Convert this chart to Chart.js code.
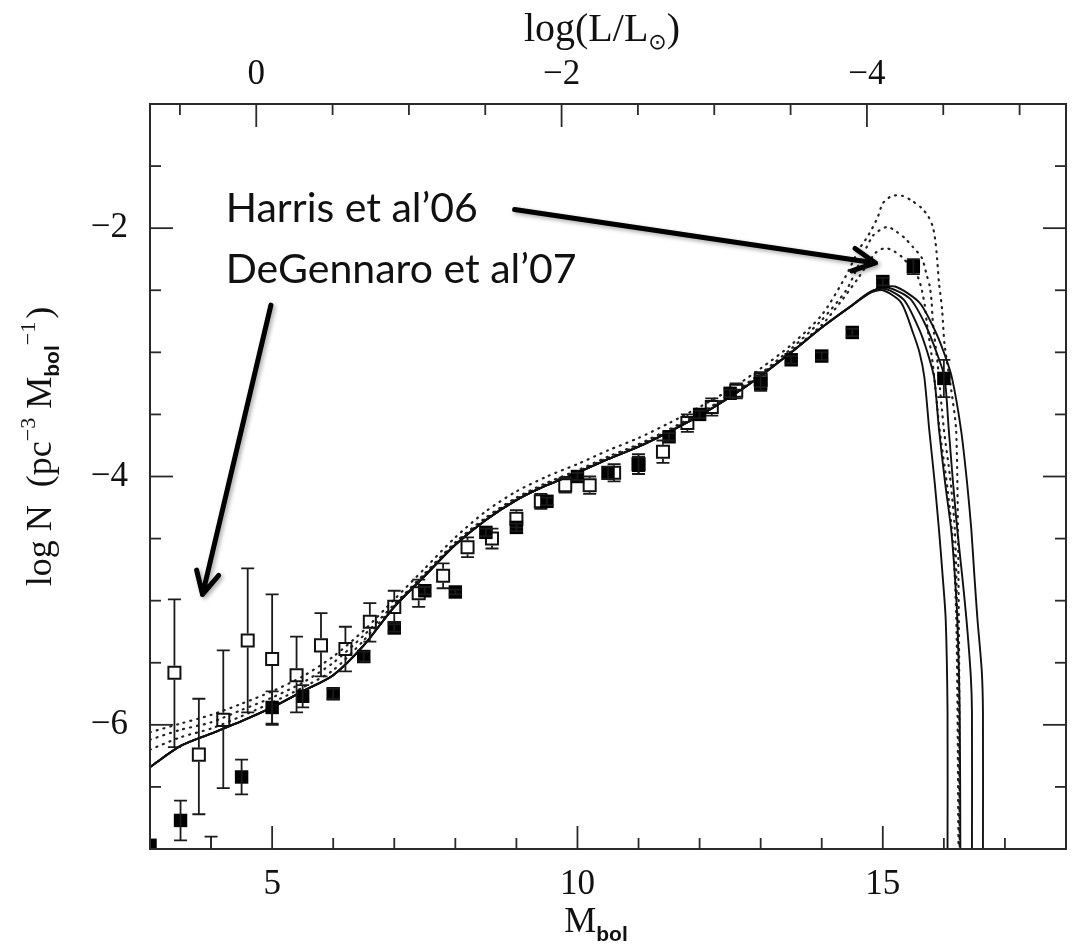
<!DOCTYPE html>
<html>
<head>
<meta charset="utf-8">
<script src="https://cdn.jsdelivr.net/npm/chart.js@4/dist/chart.umd.min.js"></script>
<style>
  html, body { margin: 0; padding: 0; background: #fff; }
  #wrap { width: 1081px; height: 951px; }
</style>
</head>
<body>
<div id="wrap"><canvas id="lf" width="1081" height="951"></canvas></div>
<script>
// White dwarf luminosity function: observed counts and cooling-model curves.
const M_SUN = 4.74;               // solar bolometric magnitude for the top axis

// Axis ranges and top-axis (log L/Lsun) tick values
const mbolRange = [3, 18];
const logNRange = [-7, -1];
const lumTicks = [0.5, 0, -0.5, -1, -1.5, -2, -2.5, -3, -3.5, -4, -4.5, -5];
const lumLabels = [0, -2, -4];

// Model curves: body shared by the four solid models (Mbol, log N)
const solidBody = [[3.0,-6.34],[3.5,-6.17],[4.0,-6.07],[4.5,-5.97],[5.0,-5.86],[5.5,-5.73],[6.0,-5.60],
  [6.5,-5.36],[7.0,-5.05],[7.5,-4.80],[8.0,-4.55],[8.5,-4.35],[9.0,-4.19],[9.5,-4.07],[10.0,-3.97],
  [10.5,-3.86],[11.0,-3.76],[11.5,-3.64],[12.0,-3.51],[12.5,-3.36],[13.0,-3.19],[13.5,-3.00],[14.0,-2.80]];
// Faint-end tails of the four solid models
const solidTailA = [[14.5,-2.62],[14.75,-2.53],[15.0,-2.50],[15.3,-2.60],[15.5,-2.85],[15.6,-3.00],[15.68,-3.20],
  [15.76,-3.62],[15.85,-4.05],[15.92,-4.43],[15.98,-4.80],[16.03,-5.15],[16.06,-5.90],[16.06,-7.0]];
const solidTailB = [[14.5,-2.62],[14.8,-2.51],[15.05,-2.49],[15.35,-2.58],[15.6,-2.82],[15.73,-3.00],[15.84,-3.20],
  [15.92,-3.62],[16.02,-4.05],[16.12,-4.43],[16.18,-4.80],[16.22,-5.15],[16.26,-5.90],[16.27,-7.0]];
const solidTailC = [[14.5,-2.62],[14.85,-2.50],[15.1,-2.48],[15.45,-2.57],[15.7,-2.78],[15.88,-3.00],[16.01,-3.20],
  [16.08,-3.62],[16.15,-4.05],[16.22,-4.43],[16.30,-4.80],[16.37,-5.15],[16.44,-5.60],[16.46,-5.90],[16.46,-7.0]];
const solidTailD = [[14.5,-2.62],[14.9,-2.49],[15.2,-2.47],[15.6,-2.60],[15.85,-2.82],[16.00,-3.00],[16.13,-3.20],
  [16.28,-3.62],[16.38,-4.05],[16.45,-4.43],[16.50,-4.80],[16.55,-5.15],[16.62,-5.56],[16.64,-5.90],[16.64,-7.0]];

// Dotted models
const dottedA = [[3.0,-6.06],[3.5,-5.99],[4.0,-5.92],[4.5,-5.83],[5.0,-5.73],[5.5,-5.61],[6.0,-5.45],[6.5,-5.24],
  [7.0,-4.99],[7.5,-4.74],[8.0,-4.49],[8.5,-4.28],[9.0,-4.12],[9.5,-4.00],[10.0,-3.90],[10.5,-3.79],[11.0,-3.69],
  [11.5,-3.57],[12.0,-3.44],[12.5,-3.30],[13.0,-3.13],[13.5,-2.94],[14.0,-2.70],[14.39,-2.39],[14.6,-2.18],
  [14.76,-2.06],[14.91,-1.92],[15.0,-1.80],[15.15,-1.74],[15.32,-1.74],[15.48,-1.78],[15.64,-1.84],[15.75,-1.91],
  [15.82,-1.99],[15.86,-2.10],[15.89,-2.25],[15.92,-2.44],[15.97,-2.65],[16.01,-2.93],[16.12,-3.30],[16.20,-3.62],
  [16.23,-4.40],[16.25,-5.50],[16.26,-7.0]];
const dottedB = [[3.0,-6.12],[3.5,-6.04],[4.0,-5.98],[4.5,-5.88],[5.0,-5.78],[5.5,-5.66],[6.0,-5.50],[6.5,-5.28],
  [7.0,-5.03],[7.5,-4.78],[8.0,-4.53],[8.5,-4.33],[9.0,-4.17],[9.5,-4.05],[10.0,-3.95],[10.5,-3.84],[11.0,-3.74],
  [11.5,-3.62],[12.0,-3.49],[12.5,-3.34],[13.0,-3.17],[13.5,-2.97],[14.0,-2.74],[14.4,-2.50],[14.6,-2.30],
  [14.84,-2.06],[15.07,-1.99],[15.23,-2.03],[15.36,-2.08],[15.49,-2.15],[15.64,-2.24],[15.72,-2.38],[15.77,-2.47],
  [15.80,-2.60],[15.82,-2.76],[15.90,-3.10],[16.00,-3.62],[16.10,-4.00],[16.18,-4.43],[16.22,-5.20],[16.25,-7.0]];
const dottedC = [[3.0,-6.20],[3.5,-6.10],[4.0,-6.03],[4.5,-5.93],[5.0,-5.82],[5.5,-5.70],[6.0,-5.56],[6.5,-5.32],
  [7.0,-5.04],[7.5,-4.79],[8.0,-4.54],[8.5,-4.34],[9.0,-4.18],[9.5,-4.06],[10.0,-3.96],[10.5,-3.85],[11.0,-3.75],
  [11.5,-3.63],[12.0,-3.50],[12.5,-3.35],[13.0,-3.18],[13.5,-2.99],[14.0,-2.78],[14.3,-2.60],[14.6,-2.40],
  [14.88,-2.20],[15.04,-2.16],[15.2,-2.19],[15.33,-2.24],[15.57,-2.39],[15.64,-2.50],[15.69,-2.63],[15.72,-2.76],
  [15.82,-3.10],[15.93,-3.62],[16.06,-4.10],[16.16,-4.60],[16.21,-5.30],[16.24,-7.0]];

// Harris et al. 2006 (filled squares)
const harrisM    = [3.0, 3.5, 4.0, 4.5, 5.0, 5.5, 6.0, 6.5, 7.0, 7.5, 8.0, 8.5, 9.0, 9.5, 10.0, 10.5, 11.0,
  11.5, 12.0, 12.5, 13.0, 13.5, 14.0, 14.5, 15.0, 15.5, 16.0];
const harrisLogN = [-6.97,-6.77,-7.15,-6.42,-5.86,-5.77,-5.75,-5.45,-5.22,-4.92,-4.93,-4.45,-4.41,-4.20,-4.00,
  -3.97,-3.91,-3.68,-3.50,-3.33,-3.25,-3.06,-3.03,-2.84,-2.43,-2.31,-3.21];
const harrisErr  = [0.00, 0.16, 0.25, 0.14, 0.13, 0.09, 0.04, 0.04, 0.03, 0.03, 0.02, 0.03, 0.03, 0.03, 0.03,
  0.05, 0.07, 0.03, 0.03, 0.03, 0.06, 0.03, 0.03, 0.03, 0.03, 0.06, 0.15];

// DeGennaro et al. 2007 (open squares)
const degM      = [3.4, 3.8, 4.2, 4.6, 5.0, 5.4, 5.8, 6.2, 6.6, 7.0, 7.4, 7.8, 8.2, 8.6, 9.0, 9.4, 9.8, 10.2,
  10.6, 11.0, 11.4, 11.8, 12.2, 12.6, 13.0];
const degLogN   = [-5.58,-6.24,-5.96,-5.32,-5.47,-5.60,-5.36,-5.39,-5.17,-5.05,-4.94,-4.80,-4.57,-4.50,-4.34,
  -4.20,-4.07,-4.07,-3.97,-3.90,-3.80,-3.57,-3.44,-3.31,-3.22];
const degErrUp  = [0.59, 0.45, 0.56, 0.58, 0.52, 0.31, 0.26, 0.18, 0.15, 0.13, 0.11, 0.10, 0.08, 0.08, 0.07,
  0.06, 0.06, 0.07, 0.07, 0.08, 0.09, 0.07, 0.07, 0.06, 0.06];
const degErrLow = [0.60, 0.48, 0.55, 0.58, 0.53, 0.30, 0.25, 0.18, 0.16, 0.12, 0.11, 0.10, 0.08, 0.08, 0.07,
  0.06, 0.06, 0.07, 0.07, 0.08, 0.09, 0.07, 0.07, 0.06, 0.06];

// Callouts (placed in data coordinates)
const notes = [
  { text: 'Harris et al\u201906',      M: 4.24, logN: -1.95 },
  { text: 'DeGennaro et al\u201907',   M: 4.24, logN: -2.44 }
];
const arrows = [
  { from: [8.97, -1.85], to: [14.88, -2.28] },
  { from: [4.98, -2.62], to: [3.86, -4.95] }
];

const toXY = arr => arr.map(([x, y]) => ({ x, y }));
const lumToMbol = l => M_SUN - 2.5 * l;
const SERIF = '"Liberation Serif", "DejaVu Serif", serif';
const MINUS = '\u2212';
const fmt = v => (v < 0 ? MINUS : '') + Math.abs(Math.round(v));
const isMult = (v, s) => Math.abs(v / s - Math.round(v / s)) < 1e-6;
const tickFont = { family: SERIF, size: 35 };

function solid(tail) {
  return { data: toXY(solidBody.concat(tail)), showLine: true, borderColor: '#111', borderWidth: 1.9,
           pointRadius: 0, tension: 0.25, order: 5 };
}
function dotted(arr) {
  return { data: toXY(arr), showLine: true, borderColor: '#222', borderWidth: 2.2, borderDash: [1, 6],
           borderCapStyle: 'round', pointRadius: 0, tension: 0.25, order: 6 };
}

// Error bars, drawn through the chart's own scales
const errorBars = {
  id: 'errorBars',
  afterDatasetsDraw(chart) {
    const { ctx, chartArea: a, scales: { x, y } } = chart;
    ctx.save();
    ctx.beginPath();
    ctx.rect(a.left, a.top, a.right - a.left, a.bottom - a.top);
    ctx.clip();
    ctx.strokeStyle = '#1a1a1a';
    ctx.lineWidth = 1.8;
    const cap = 6.5;
    const bar = (m, v, up, lo, gap) => {
      const px = x.getPixelForValue(m);
      const pv = y.getPixelForValue(v);
      const pt = y.getPixelForValue(v + up);
      const pb = y.getPixelForValue(v - lo);
      ctx.beginPath();
      if (pv - gap > pt) { ctx.moveTo(px, pv - gap); ctx.lineTo(px, pt); }
      if (pv + gap < pb) { ctx.moveTo(px, pv + gap); ctx.lineTo(px, pb); }
      ctx.moveTo(px - cap, pt); ctx.lineTo(px + cap, pt);
      ctx.moveTo(px - cap, pb); ctx.lineTo(px + cap, pb);
      ctx.stroke();
    };
    degM.forEach((m, i) => bar(m, degLogN[i], degErrUp[i], degErrLow[i], 7));
    harrisM.forEach((m, i) => { if (harrisErr[i] > 0) bar(m, harrisLogN[i], harrisErr[i], harrisErr[i], 0); });
    ctx.restore();
  }
};

// Frame, inward tick marks, top luminosity axis, axis titles and callouts
const decorations = {
  id: 'decorations',
  afterDraw(chart) {
    const { ctx, chartArea: a, scales } = chart;
    const { x, y } = scales;
    const MAJ = 23, MIN = 11;
    ctx.save();
    ctx.strokeStyle = '#2a2a2a';
    ctx.lineWidth = 2;
    ctx.strokeRect(a.left, a.top, a.right - a.left, a.bottom - a.top);
    ctx.lineWidth = 1.8;
    const seg = (x1, y1, x2, y2) => { ctx.beginPath(); ctx.moveTo(x1, y1); ctx.lineTo(x2, y2); ctx.stroke(); };
    const inside = (s, v) => v > s.min + 1e-6 && v < s.max - 1e-6;

    x.ticks.forEach(t => {
      const v = t.value;
      if (!inside(x, v) || !isMult(v, 1)) return;
      const p = x.getPixelForValue(v);
      seg(p, a.bottom, p, a.bottom - (isMult(v, 5) ? MAJ : MIN));
    });
    y.ticks.forEach(t => {
      const v = t.value;
      if (!inside(y, v) || !isMult(v, 0.5)) return;
      const p = y.getPixelForValue(v);
      const len = isMult(v, 2) ? MAJ : MIN;
      seg(a.left, p, a.left + len, p);
      seg(a.right, p, a.right - len, p);
    });

    // Top axis: log(L/Lsun), mapped onto the Mbol scale
    ctx.fillStyle = '#111';
    ctx.font = `${tickFont.size}px ${SERIF}`;
    ctx.textAlign = 'center';
    ctx.textBaseline = 'middle';
    lumTicks.forEach(l => {
      const m = lumToMbol(l);
      if (!inside(x, m)) return;
      const p = x.getPixelForValue(m);
      const major = lumLabels.includes(l);
      seg(p, a.top, p, a.top + (major ? MAJ : MIN));
      if (major) ctx.fillText(fmt(l), p, a.top - 29);
    });

    // Axis titles with sub/superscripts
    ctx.textAlign = 'left';
    ctx.textBaseline = 'alphabetic';
    const rich = (parts, cx, cy) => {
      let total = 0;
      parts.forEach(p => {
        ctx.font = `${p.weight || 'normal'} ${p.size}px ${p.family || SERIF}`;
        p.w = ctx.measureText(p.text).width;
        total += p.w + (p.gap || 0);
      });
      let x0 = cx - total / 2;
      parts.forEach(p => {
        ctx.font = `${p.weight || 'normal'} ${p.size}px ${p.family || SERIF}`;
        ctx.fillText(p.text, x0, cy + (p.dy || 0));
        x0 += p.w + (p.gap || 0);
      });
    };
    const cx = (a.left + a.right) / 2;
    rich([
      { text: 'log(L/L', size: 40 },
      { text: '\u2299', size: 22, dy: 8, family: '"DejaVu Sans", sans-serif' },
      { text: ')', size: 40 }
    ], cx - 6, a.top - 63);
    rich([
      { text: 'M', size: 36 },
      { text: 'bol', size: 21, dy: 9, weight: 'bold', family: '"Liberation Sans", sans-serif' }
    ], cx - 12, a.bottom + 83);
    ctx.save();
    ctx.translate(51, (a.top + a.bottom) / 2 - 30);
    ctx.rotate(-Math.PI / 2);
    rich([
      { text: 'log N  (pc', size: 36 },
      { text: MINUS + '3', size: 22, dy: -16, gap: 9 },
      { text: 'M', size: 36 },
      { text: 'bol', size: 21, dy: 8, weight: 'bold', family: '"Liberation Sans", sans-serif' },
      { text: MINUS + '1', size: 22, dy: -16, gap: 3 },
      { text: ')', size: 36 }
    ], 0, 0);
    ctx.restore();

    // Callout text
    ctx.font = '41px Lato, "Open Sans", sans-serif';
    ctx.textAlign = 'left';
    notes.forEach(n => ctx.fillText(n.text, x.getPixelForValue(n.M), y.getPixelForValue(n.logN)));

    // Callout arrows with a soft shadow
    ctx.shadowColor = 'rgba(0,0,0,0.35)';
    ctx.shadowBlur = 4;
    ctx.shadowOffsetX = 2;
    ctx.shadowOffsetY = 2;
    ctx.strokeStyle = '#000';
    ctx.lineWidth = 5;
    ctx.lineCap = 'round';
    ctx.lineJoin = 'round';
    arrows.forEach(ar => {
      const x1 = x.getPixelForValue(ar.from[0]), y1 = y.getPixelForValue(ar.from[1]);
      const x2 = x.getPixelForValue(ar.to[0]),   y2 = y.getPixelForValue(ar.to[1]);
      const ang = Math.atan2(y2 - y1, x2 - x1);
      const hl = 25, ha = 0.47;
      ctx.beginPath();
      ctx.moveTo(x1, y1); ctx.lineTo(x2, y2);
      ctx.moveTo(x2 - hl * Math.cos(ang - ha), y2 - hl * Math.sin(ang - ha));
      ctx.lineTo(x2, y2);
      ctx.lineTo(x2 - hl * Math.cos(ang + ha), y2 - hl * Math.sin(ang + ha));
      ctx.stroke();
    });
    ctx.restore();
  }
};

new Chart(document.getElementById('lf'), {
  type: 'scatter',
  data: {
    datasets: [
      { label: 'Harris et al. 2006', data: harrisM.map((m, i) => ({ x: m, y: harrisLogN[i] })),
        pointStyle: 'rect', pointRadius: 9.5, backgroundColor: '#000', borderColor: '#000', borderWidth: 0, order: 0 },
      { label: 'DeGennaro et al. 2007', data: degM.map((m, i) => ({ x: m, y: degLogN[i] })),
        pointStyle: 'rect', pointRadius: 8.5, backgroundColor: 'rgba(255,255,255,0)', borderColor: '#111',
        borderWidth: 2, order: 1 },
      solid(solidTailA), solid(solidTailB), solid(solidTailC), solid(solidTailD),
      dotted(dottedA), dotted(dottedB), dotted(dottedC)
    ]
  },
  options: {
    responsive: false,
    animation: false,
    devicePixelRatio: 1,
    layout: { padding: { left: 0, right: 9, top: 104, bottom: 0 } },
    plugins: { legend: { display: false }, tooltip: { enabled: false } },
    scales: {
      x: {
        type: 'linear', position: 'bottom', min: mbolRange[0], max: mbolRange[1],
        grid: { display: false, drawTicks: false }, border: { display: false },
        ticks: { stepSize: 1, autoSkip: false, maxRotation: 0, padding: 15, color: '#111', font: tickFont,
                 callback: v => (isMult(v, 5) ? fmt(v) : '') },
        afterFit: s => { s.height = 102; }
      },
      y: {
        type: 'linear', position: 'left', min: logNRange[0], max: logNRange[1],
        grid: { display: false, drawTicks: false }, border: { display: false },
        ticks: { stepSize: 0.5, autoSkip: false, padding: 22, color: '#111', font: tickFont,
                 callback: v => (isMult(v, 2) ? fmt(v) : '') },
        afterFit: s => { s.width = 150; }
      }
    }
  },
  plugins: [errorBars, decorations]
});
</script>
</body>
</html>
